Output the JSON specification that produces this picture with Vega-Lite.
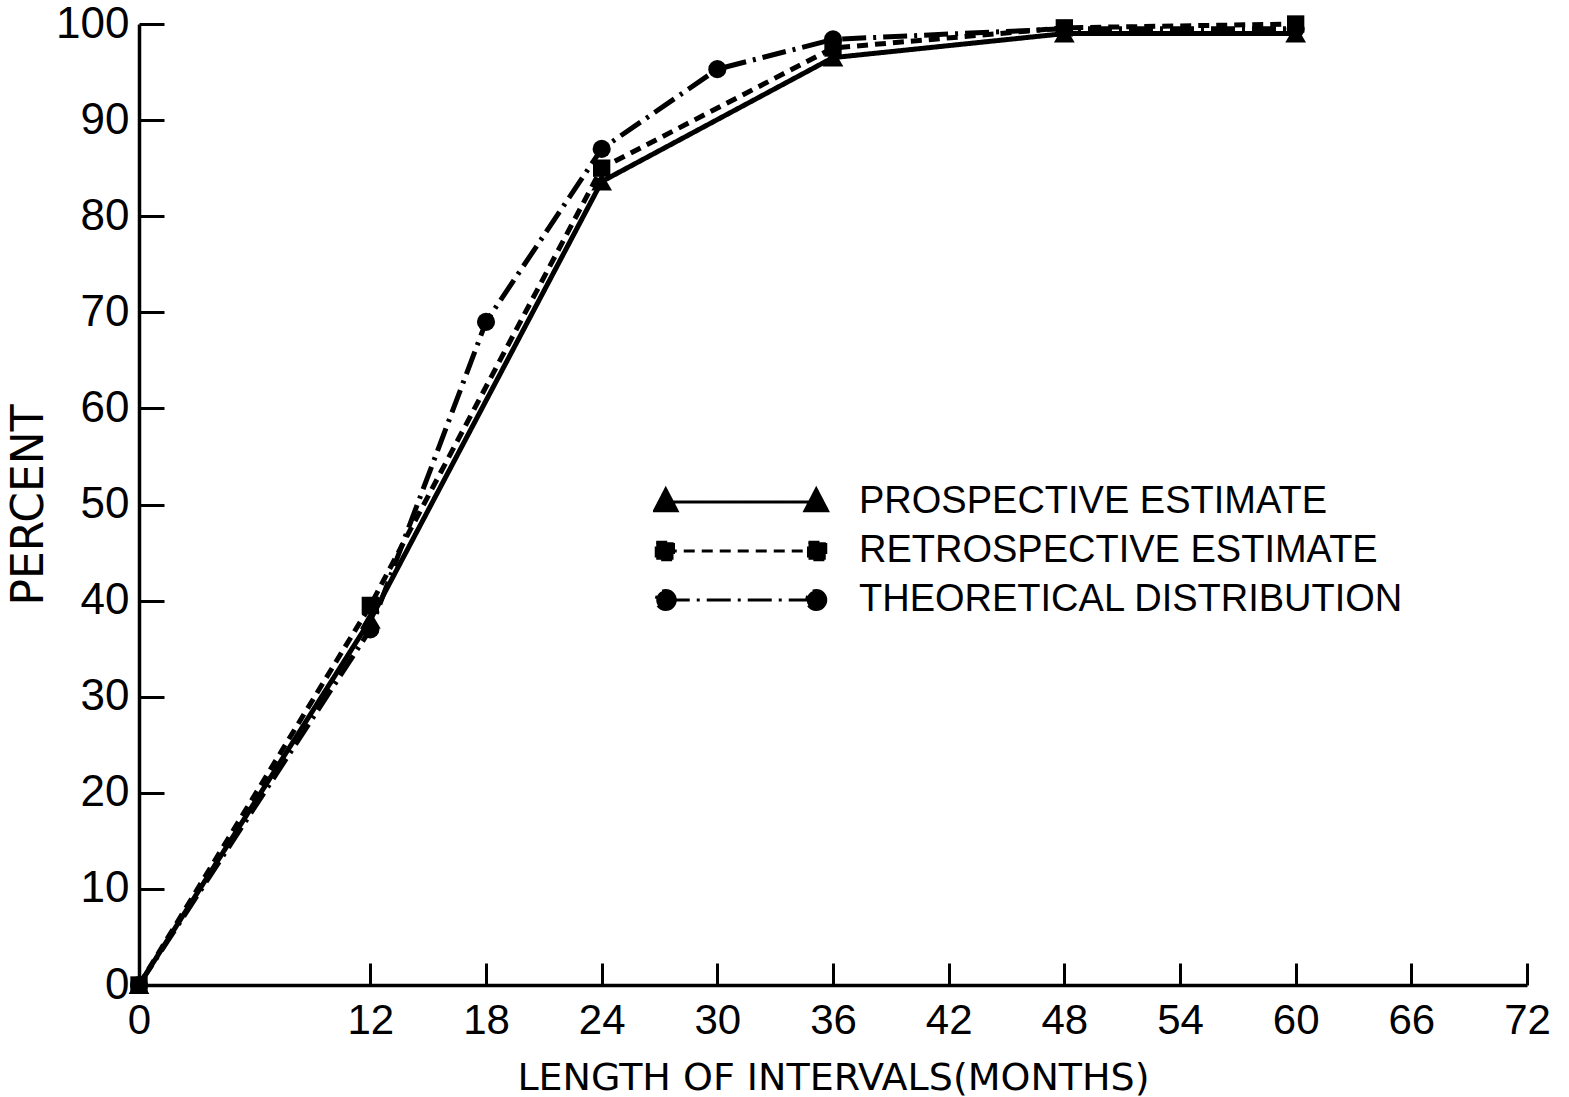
{
  "$schema": "https://vega.github.io/schema/vega-lite/v6.json",
  "width": 1388,
  "height": 961,
  "autosize": {"type": "none"},
  "padding": {"left": 139, "top": 24, "right": 42, "bottom": 112},
  "background": "white",
  "config": {
    "view": {"stroke": null},
    "axis": {
      "grid": false,
      "domainColor": "black",
      "tickColor": "black",
      "labelColor": "black",
      "titleColor": "black",
      "domainWidth": 3.5,
      "tickWidth": 3
    }
  },
  "data": {
    "values": [
      {"series": "PROSPECTIVE ESTIMATE", "months": 0, "percent": 0},
      {"series": "PROSPECTIVE ESTIMATE", "months": 12, "percent": 38},
      {"series": "PROSPECTIVE ESTIMATE", "months": 24, "percent": 83.6},
      {"series": "PROSPECTIVE ESTIMATE", "months": 36, "percent": 96.5},
      {"series": "PROSPECTIVE ESTIMATE", "months": 48, "percent": 99},
      {"series": "PROSPECTIVE ESTIMATE", "months": 60, "percent": 99},
      {"series": "RETROSPECTIVE ESTIMATE", "months": 0, "percent": 0},
      {"series": "RETROSPECTIVE ESTIMATE", "months": 12, "percent": 39.5},
      {"series": "RETROSPECTIVE ESTIMATE", "months": 24, "percent": 85},
      {"series": "RETROSPECTIVE ESTIMATE", "months": 36, "percent": 97.5},
      {"series": "RETROSPECTIVE ESTIMATE", "months": 48, "percent": 99.6},
      {"series": "RETROSPECTIVE ESTIMATE", "months": 60, "percent": 100},
      {"series": "THEORETICAL DISTRIBUTION", "months": 0, "percent": 0},
      {"series": "THEORETICAL DISTRIBUTION", "months": 12, "percent": 37},
      {"series": "THEORETICAL DISTRIBUTION", "months": 18, "percent": 69},
      {"series": "THEORETICAL DISTRIBUTION", "months": 24, "percent": 87},
      {"series": "THEORETICAL DISTRIBUTION", "months": 30, "percent": 95.3},
      {"series": "THEORETICAL DISTRIBUTION", "months": 36, "percent": 98.4},
      {"series": "THEORETICAL DISTRIBUTION", "months": 48, "percent": 99.5},
      {"series": "THEORETICAL DISTRIBUTION", "months": 60, "percent": 99.5}
    ]
  },
  "encoding": {
    "x": {
      "field": "months",
      "type": "quantitative",
      "scale": {"domain": [0, 72], "nice": false},
      "axis": {
        "values": [0, 12, 18, 24, 30, 36, 42, 48, 54, 60, 66, 72],
        "tickSize": -22,
        "labelPadding": 37,
        "labelFont": "Liberation Sans",
        "labelFontSize": 42,
        "labelFlush": false,
        "title": "LENGTH OF INTERVALS(MONTHS)",
        "titleFont": "DejaVu Sans",
        "titleFontSize": 38,
        "titleFontWeight": "normal",
        "titlePadding": 18
      }
    },
    "y": {
      "field": "percent",
      "type": "quantitative",
      "scale": {"domain": [0, 100], "nice": false},
      "axis": {
        "values": [0, 10, 20, 30, 40, 50, 60, 70, 80, 90, 100],
        "tickSize": -25,
        "labelPadding": 35,
        "labelFont": "Liberation Sans",
        "labelFontSize": 44,
        "labelFlush": false,
        "title": "PERCENT",
        "titleFont": "DejaVu Sans",
        "titleFontSize": 44,
        "titleFontWeight": "normal",
        "titlePadding": 4
      }
    }
  },
  "layer": [
    {
      "mark": {"type": "line", "strokeWidth": 5, "color": "black"},
      "encoding": {
        "strokeDash": {
          "field": "series",
          "type": "nominal",
          "scale": {
            "domain": ["PROSPECTIVE ESTIMATE", "RETROSPECTIVE ESTIMATE", "THEORETICAL DISTRIBUTION"],
            "range": [[1, 0], [11, 7], [24, 7, 3, 7]]
          },
          "legend": {
            "orient": "none",
            "legendX": 514,
            "legendY": 458,
            "title": null,
            "padding": 0,
            "symbolSize": 29929,
            "symbolStrokeWidth": 3,
            "symbolFillColor": "black",
            "symbolStrokeColor": "black",
            "clipHeight": 40,
            "rowPadding": 9,
            "labelOffset": 30,
            "symbolOffset": 0,
            "labelFont": "Liberation Sans",
            "labelFontSize": 38,
            "labelColor": "black",
            "labelLimit": 0
          }
        }
      }
    },
    {
      "transform": [{"filter": "datum.series === 'PROSPECTIVE ESTIMATE'"}],
      "mark": {"type": "point", "shape": "triangle-up", "filled": true, "size": 430, "opacity": 1, "color": "black"}
    },
    {
      "transform": [{"filter": "datum.series === 'RETROSPECTIVE ESTIMATE'"}],
      "mark": {"type": "point", "shape": "square", "filled": true, "size": 300, "opacity": 1, "color": "black"}
    },
    {
      "transform": [{"filter": "datum.series === 'THEORETICAL DISTRIBUTION'"}],
      "mark": {"type": "point", "shape": "circle", "filled": true, "size": 330, "opacity": 1, "color": "black"}
    },
    {
      "mark": {"type": "point", "filled": true, "size": 10, "opacity": 0, "color": "black"},
      "encoding": {
        "shape": {
          "field": "series",
          "type": "nominal",
          "scale": {
            "domain": ["PROSPECTIVE ESTIMATE", "RETROSPECTIVE ESTIMATE", "THEORETICAL DISTRIBUTION"],
            "range": [
              "M-0.87,0L0.87,0M-0.87,-0.15L-0.74,0.1L-1,0.1ZM0.87,-0.15L1,0.1L0.74,0.1Z",
              "M-0.87,0L0.87,0M-0.98,-0.1L-0.78,-0.1L-0.78,0.1L-0.98,0.1ZM0.78,-0.1L0.98,-0.1L0.98,0.1L0.78,0.1Z",
              "M-0.87,0L0.87,0M-0.76,0A0.11,0.11,0,1,1,-0.98,0A0.11,0.11,0,1,1,-0.76,0ZM0.98,0A0.11,0.11,0,1,1,0.76,0A0.11,0.11,0,1,1,0.98,0Z"
            ]
          },
          "legend": null
        }
      }
    }
  ]
}
